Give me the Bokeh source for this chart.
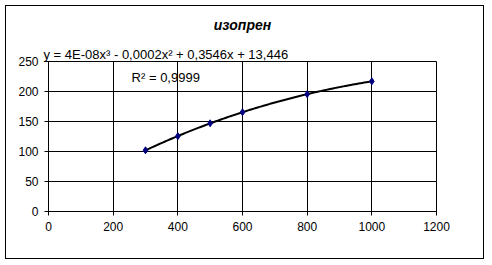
import numpy as np
from bokeh.plotting import figure
from bokeh.models import Range1d, FixedTicker, Label, Title, InlineStyleSheet
from bokeh.embed import file_html
from bokeh.resources import INLINE

# data
x_vals = [300, 400, 500, 600, 800, 1000]
y_vals = [102, 125.5, 147, 165.5, 195.5, 217]
x_ticks = [0, 200, 400, 600, 800, 1000, 1200]
y_ticks = [0, 50, 100, 150, 200, 250]
title_text = "изопрен"
eq_text = "y = 4E-08x³ - 0,0002x² + 0,3546x + 13,446"
r2_text = "R² = 0,9999"

FONT = "Liberation Sans"

p = figure(width=492, height=265, output_backend="svg", toolbar_location=None,
           x_range=Range1d(0, 1200), y_range=Range1d(0, 250),
           min_border_left=48, min_border_right=56, min_border_top=61, min_border_bottom=54)
p.background_fill_color = "white"
p.border_fill_color = "white"
p.outline_line_color = "black"
p.outline_line_width = 1
p.stylesheets = [InlineStyleSheet(css=(
    ":host { position: relative; }"
    ":host::after { content: ''; position: absolute; left: 5px; top: 5px; width: 479px; height: 254px;"
    " border: 1px solid black; box-sizing: border-box; pointer-events: none; }"))]

for ax, ticks in ((p.xaxis[0], x_ticks), (p.yaxis[0], y_ticks)):
    ax.ticker = FixedTicker(ticks=ticks)
    ax.minor_tick_line_color = None
    ax.major_tick_in = 0
    ax.major_tick_out = 4
    ax.axis_line_color = "black"
    ax.major_tick_line_color = "black"
    ax.major_label_text_font = FONT
    ax.major_label_text_font_size = "12px"
    ax.major_label_text_color = "black"
    ax.major_label_standoff = 6

for g in (p.xgrid[0], p.ygrid[0]):
    g.grid_line_color = "black"
    g.grid_line_width = 1

# trendline (cubic fit of the data)
coef = np.polyfit(x_vals, y_vals, 3)
xt = np.linspace(min(x_vals), max(x_vals), 120)
p.line(xt, np.polyval(coef, xt), line_color="black", line_width=2)

p.scatter(x_vals, y_vals, marker="diamond", size=7, fill_color="#000080", line_color="#000080")

p.title = Title(text=title_text, align="center", offset=3, standoff=23,
                text_font=FONT, text_font_size="14px", text_font_style="bold italic", text_color="black")
p.add_layout(Title(text=eq_text, align="left", offset=-5, standoff=0,
                   text_font=FONT, text_font_size="13px", text_font_style="normal", text_color="black"),
             "above")
p.add_layout(Label(x=257, y=224, text=r2_text, text_align="left", text_baseline="alphabetic",
                   text_font=FONT, text_font_size="13px", text_color="black"))

open("out.html", "w").write(file_html(p, INLINE))
